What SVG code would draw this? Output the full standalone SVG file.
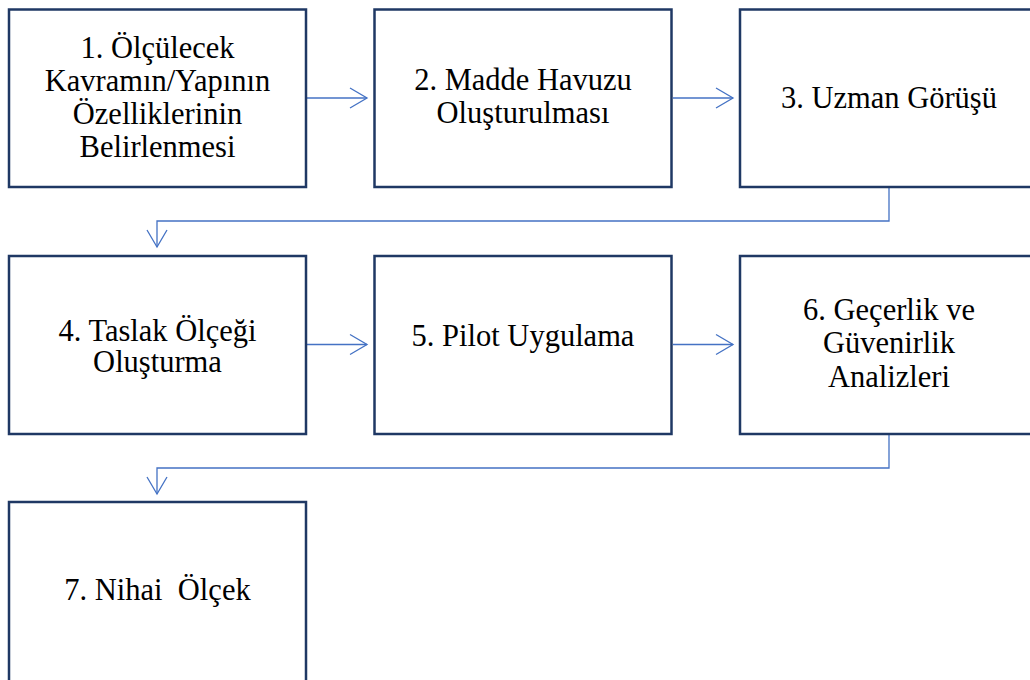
<svg xmlns="http://www.w3.org/2000/svg" width="1030" height="680" viewBox="0 0 1030 680">
<style>
.box{fill:#ffffff;stroke:#1F3864;stroke-width:2.5}
.lbl{font-size:30.5px;fill:#000000;text-anchor:middle}
.con{fill:none;stroke:#4472C4;stroke-width:1.3}
</style>
<defs>
<marker id="arr" viewBox="-19 -12 21 24" markerWidth="21" markerHeight="24" refX="0" refY="0" markerUnits="userSpaceOnUse" orient="auto">
<path d="M-17,-10 L0,0 L-17,10" fill="none" stroke="#4472C4" stroke-width="1.3"/>
</marker>
</defs>
<rect width="1030" height="680" fill="#ffffff"/>
<g id="connectors">
<line class="con" x1="307" y1="98" x2="367" y2="98" marker-end="url(#arr)"/>
<line class="con" x1="673" y1="98" x2="733" y2="98" marker-end="url(#arr)"/>
<polyline class="con" points="889,188 889,221 157,221 157,247" marker-end="url(#arr)"/>
<line class="con" x1="307" y1="344.5" x2="367" y2="344.5" marker-end="url(#arr)"/>
<line class="con" x1="673" y1="344.5" x2="733" y2="344.5" marker-end="url(#arr)"/>
<polyline class="con" points="889,435 889,468 157,468 157,494" marker-end="url(#arr)"/>
</g>
<g font-family="Liberation Serif, Tinos, Times New Roman, DejaVu Serif, serif">
<g id="node1">
<rect class="box" x="9" y="9.5" width="297" height="177.5"/>
<text class="lbl" x="157.5" y="58">1. Ölçülecek</text>
<text class="lbl" x="157.5" y="91">Kavramın/Yapının</text>
<text class="lbl" x="157.5" y="124">Özelliklerinin</text>
<text class="lbl" x="157.5" y="156.5">Belirlenmesi</text>
</g>
<g id="node2">
<rect class="box" x="374.5" y="9.5" width="297" height="177.5"/>
<text class="lbl" x="523" y="90">2. Madde Havuzu</text>
<text class="lbl" x="523" y="122.5">Oluşturulması</text>
</g>
<g id="node3">
<rect class="box" x="740" y="9.5" width="298" height="177.5"/>
<text class="lbl" x="889" y="107.5">3. Uzman Görüşü</text>
</g>
<g id="node4">
<rect class="box" x="9" y="256" width="297" height="178"/>
<text class="lbl" x="157.5" y="340.5">4. Taslak Ölçeği</text>
<text class="lbl" x="157.5" y="372">Oluşturma</text>
</g>
<g id="node5">
<rect class="box" x="374.5" y="256" width="297" height="178"/>
<text class="lbl" x="523" y="346">5. Pilot Uygulama</text>
</g>
<g id="node6">
<rect class="box" x="740" y="256" width="298" height="178"/>
<text class="lbl" x="889" y="320">6. Geçerlik ve</text>
<text class="lbl" x="889" y="352.5">Güvenirlik</text>
<text class="lbl" x="889" y="387">Analizleri</text>
</g>
<g id="node7">
<rect class="box" x="9" y="502" width="297" height="190"/>
<text class="lbl" x="157.5" y="600" xml:space="preserve">7. Nihai  Ölçek</text>
</g>
</g>
</svg>
